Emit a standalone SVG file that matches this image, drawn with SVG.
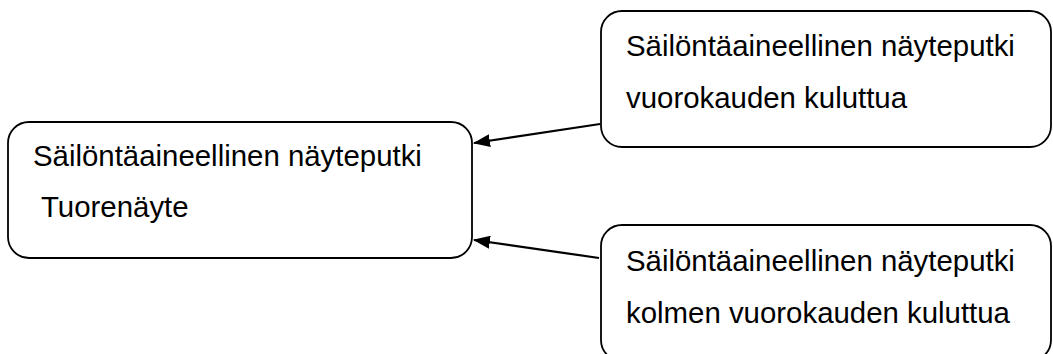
<svg xmlns="http://www.w3.org/2000/svg" width="1053" height="354" viewBox="0 0 1053 354">
  <style>
    .box { fill: #ffffff; stroke: #000000; stroke-width: 1.8; }
    .lbl { font-family: "Liberation Sans", Arial, sans-serif; font-size: 29.4px; fill: #000000; }
    .conn { stroke: #000000; stroke-width: 2.2; fill: none; }
  </style>
  <defs>
    <marker id="arrow" markerWidth="10" markerHeight="8" refX="9" refY="4" orient="auto" markerUnits="userSpaceOnUse" viewBox="0 0 10 8">
      <path d="M0,0 L10,4 L0,8 z" fill="#000000"/>
    </marker>
    <marker id="arrowhead" markerWidth="17" markerHeight="13" refX="16" refY="6.5" orient="auto" markerUnits="userSpaceOnUse" viewBox="0 0 17 13">
      <path d="M0,0 L17,6.5 L0,13 z" fill="#000000"/>
    </marker>
  </defs>
  <rect width="1053" height="354" fill="#ffffff"/>
  <g id="connectors">
    <line class="conn" x1="600" y1="124" x2="474" y2="143" marker-end="url(#arrowhead)"/>
    <line class="conn" x1="599" y1="258" x2="474" y2="240" marker-end="url(#arrowhead)"/>
  </g>
  <g id="node-fresh">
    <rect class="box" x="8" y="122" width="464" height="136" rx="21" ry="21"/>
    <text class="lbl" x="33" y="166">Säilöntäaineellinen näyteputki</text>
    <text class="lbl" x="41" y="217">Tuorenäyte</text>
  </g>
  <g id="node-one-day">
    <rect class="box" x="601" y="11" width="450" height="136" rx="21" ry="21"/>
    <text class="lbl" x="626" y="56">Säilöntäaineellinen näyteputki</text>
    <text class="lbl" x="626" y="108">vuorokauden kuluttua</text>
  </g>
  <g id="node-three-days">
    <rect class="box" x="601" y="225" width="450" height="136" rx="21" ry="21"/>
    <text class="lbl" x="626" y="271">Säilöntäaineellinen näyteputki</text>
    <text class="lbl" x="626" y="323">kolmen vuorokauden kuluttua</text>
  </g>
</svg>
